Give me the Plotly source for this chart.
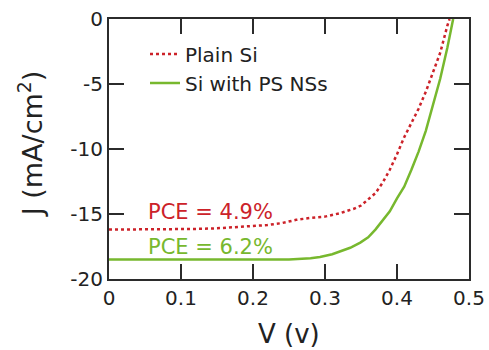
import plotly.graph_objects as go

# Plain Si (red dotted)
v_plain = [0, 0.02, 0.05, 0.08, 0.10, 0.12, 0.15, 0.18, 0.20, 0.22, 0.24, 0.26, 0.28, 0.30,
           0.32, 0.34, 0.35, 0.36, 0.37, 0.38, 0.39, 0.40, 0.41, 0.42, 0.43, 0.44, 0.45,
           0.46, 0.47, 0.473]
j_plain = [-16.2, -16.2, -16.15, -16.2, -16.15, -16.15, -16.1, -16.0, -15.95, -15.85, -15.7,
           -15.45, -15.3, -15.2, -14.95, -14.6, -14.35, -13.9, -13.4, -12.6, -11.6, -10.4,
           -9.1, -8.0, -6.9, -5.6, -4.1, -2.6, -0.5, 0]

# Si with PS NSs (green solid)
v_ps = [0, 0.05, 0.10, 0.15, 0.20, 0.25, 0.28, 0.293, 0.31, 0.321, 0.335, 0.349, 0.36, 0.37,
        0.38, 0.39, 0.40, 0.41, 0.42, 0.43, 0.44, 0.45, 0.46, 0.47, 0.478]
j_ps = [-18.5, -18.5, -18.45, -18.5, -18.45, -18.5, -18.4, -18.3, -18.1, -17.9, -17.6, -17.2,
        -16.8, -16.2, -15.5, -14.8, -13.8, -12.9, -11.6, -10.2, -8.6, -6.7, -4.6, -2.2, 0]

x_ticks = [0, 0.1, 0.2, 0.3, 0.4, 0.5]
y_ticks = [-20, -15, -10, -5, 0]

RED = "#cc2229"
GREEN = "#77b82e"
AX = "#2b2b2b"
FONT = "DejaVu Sans"

fig = go.Figure()
fig.add_trace(go.Scatter(x=v_plain, y=j_plain, mode="lines", name="Plain Si",
                         line=dict(color=RED, width=2.5, dash="dot")))
fig.add_trace(go.Scatter(x=v_ps, y=j_ps, mode="lines", name="Si with PS NSs",
                         line=dict(color=GREEN, width=2.5)))

axis_common = dict(showgrid=False, zeroline=False, showline=True, linecolor=AX, linewidth=2,
                   mirror="ticks", ticks="inside", ticklen=15, tickwidth=2, tickcolor=AX,
                   automargin=False,
                   tickfont=dict(family=FONT, size=20, color="#222"))

fig.update_xaxes(range=[0, 0.5], tickvals=x_ticks, ticktext=[f"{t:g}" for t in x_ticks],
                 **axis_common)
fig.update_yaxes(range=[-20, 0], tickvals=y_ticks, ticktext=[str(t) for t in y_ticks],
                 **axis_common)

fig.add_annotation(text="V (v)", xref="paper", yref="paper", x=0.5, y=-0.212,
                   xanchor="center", yanchor="middle", showarrow=False,
                   font=dict(family=FONT, size=26, color="#222"))
fig.add_annotation(text="J (mA/cm<sup>2</sup>)", xref="paper", yref="paper",
                   x=-0.218, y=0.52, xanchor="center", yanchor="middle", textangle=-90,
                   showarrow=False, font=dict(family=FONT, size=27, color="#222"))

fig.add_annotation(text="PCE = 4.9%", x=0.052, y=-14.85, xanchor="left", yanchor="middle",
                   showarrow=False, font=dict(family=FONT, size=21, color=RED))
fig.add_annotation(text="PCE = 6.2%", x=0.052, y=-17.5, xanchor="left", yanchor="middle",
                   showarrow=False, font=dict(family=FONT, size=21, color=GREEN))

fig.update_layout(
    width=489, height=350,
    margin=dict(l=109, r=20, t=19, b=71, autoexpand=False),
    paper_bgcolor="white", plot_bgcolor="white",
    showlegend=True,
    legend=dict(x=0.1, y=0.94, xanchor="left", yanchor="top", bgcolor="rgba(0,0,0,0)",
                borderwidth=0, font=dict(family=FONT, size=20, color="#222"),
                tracegroupgap=0, itemwidth=30),
)

fig.write_html("out.html")
